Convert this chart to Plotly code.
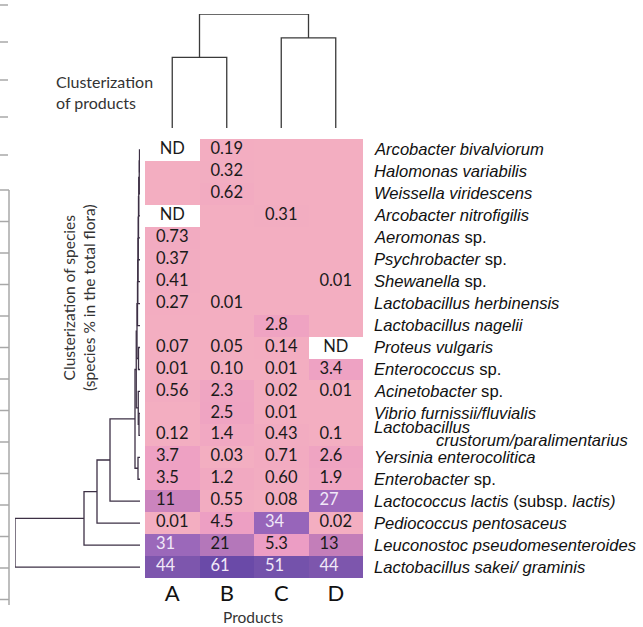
import plotly.graph_objects as go

# ---------------- data ----------------
products = ["A", "B", "C", "D"]
species = [
    "<i>Arcobacter bivalviorum</i>",
    "<i>Halomonas variabilis</i>",
    "<i>Weissella viridescens</i>",
    "<i>Arcobacter nitrofigilis</i>",
    "<i>Aeromonas</i> sp.",
    "<i>Psychrobacter</i> sp.",
    "<i>Shewanella</i> sp.",
    "<i>Lactobacillus herbinensis</i>",
    "<i>Lactobacillus nagelii</i>",
    "<i>Proteus vulgaris</i>",
    "<i>Enterococcus</i> sp.",
    "<i>Acinetobacter</i> sp.",
    "<i>Vibrio furnissii/fluvialis</i>",
    "<i>Lactobacillus</i>|<i>crustorum/paralimentarius</i>",
    "<i>Yersinia enterocolitica</i>",
    "<i>Enterobacter</i> sp.",
    "<i>Lactococcus lactis</i> (subsp. <i>lactis)</i>",
    "<i>Pediococcus pentosaceus</i>",
    "<i>Leuconostoc pseudomesenteroides</i>",
    "<i>Lactobacillus sakei/ graminis</i>",
]
col_A = ["ND", "", "", "ND", "0.73", "0.37", "0.41", "0.27", "", "0.07",
         "0.01", "0.56", "", "0.12", "3.7", "3.5", "11", "0.01", "31", "44"]
col_B = ["0.19", "0.32", "0.62", "", "", "", "", "0.01", "", "0.05",
         "0.10", "2.3", "2.5", "1.4", "0.03", "1.2", "0.55", "4.5", "21", "61"]
col_C = ["", "", "", "0.31", "", "", "", "", "2.8", "0.14",
         "0.01", "0.02", "0.01", "0.43", "0.71", "0.60", "0.08", "34", "5.3", "51"]
col_D = ["", "", "", "", "", "", "0.01", "", "", "ND",
         "3.4", "0.01", "", "0.1", "2.6", "1.9", "27", "0.02", "13", "44"]
columns = [col_A, col_B, col_C, col_D]

# dendrogram structure: (child, child, height); ids >= n_leaves refer to earlier merges
product_merges = [(0, 1, 0.62), (2, 3, 0.79), (4, 5, 1.0)]
species_merges = [
    (0, 1, 0.004), (20, 2, 0.006), (21, 3, 0.010), (22, 4, 0.012), (23, 5, 0.014),
    (24, 6, 0.016), (25, 7, 0.018), (26, 8, 0.020), (9, 10, 0.012), (27, 28, 0.024),
    (12, 13, 0.008), (11, 30, 0.014), (29, 31, 0.030), (14, 15, 0.016), (32, 33, 0.040),
    (34, 16, 0.24), (35, 17, 0.344), (36, 18, 0.448), (37, 19, 1.0),
]

# ---------------- helpers ----------------
W, H = 643, 627


def px_x(p):
    return p / W


def px_y(p):
    return 1 - p / H


def to_num(s):
    if s == "ND":
        return None
    if s == "":
        return 0.0
    return float(s)


def dendro(n, merges):
    pos = {i: float(i) for i in range(n)}
    hgt = {i: 0.0 for i in range(n)}
    P, Hh = [], []
    for k, (a, b, h) in enumerate(merges):
        P += [pos[a], pos[a], pos[b], pos[b], None]
        Hh += [hgt[a], h, h, hgt[b], None]
        pos[n + k] = (pos[a] + pos[b]) / 2
        hgt[n + k] = h
    return P, Hh


n_rows = len(species)
z = [[to_num(columns[c][r]) for c in range(4)] for r in range(n_rows)]

colorscale = [
    [0.0, "#F3AEC1"], [0.04, "#EFA4C2"], [0.087, "#EC9DC4"], [0.18, "#CB84BE"],
    [0.213, "#C37EB9"], [0.344, "#B477BA"], [0.44, "#9E68BA"], [0.51, "#9B68BA"],
    [0.557, "#9765BA"], [0.72, "#7D56AD"], [0.836, "#7452AB"], [1.0, "#6A4AA8"],
]

fig = go.Figure()
fig.add_trace(go.Heatmap(
    z=z, x=list(range(4)), y=list(range(n_rows)), colorscale=colorscale,
    zmin=0, zmax=61, showscale=False, hoverinfo="skip",
))

# value labels (left aligned in cells); ND centred
vx, vy, vt, vc = [], [], [], []
nx, ny, nt = [], [], []
for c in range(4):
    for r in range(n_rows):
        s = columns[c][r]
        if s == "":
            continue
        if s == "ND":
            nx.append(c); ny.append(r); nt.append(s)
        else:
            vx.append(c - 0.5 + 0.2); vy.append(r); vt.append(s)
            vc.append("#F1E8F8" if float(s) >= 25 else "#1A1A1A")
fig.add_trace(go.Scatter(
    x=vx, y=vy, text=vt, mode="text", textposition="middle right",
    textfont=dict(family="Lato", size=16.5, color=vc), hoverinfo="skip", showlegend=False,
))
fig.add_trace(go.Scatter(
    x=nx, y=ny, text=nt, mode="text", textposition="middle center",
    textfont=dict(family="Lato", size=16.5, color="#1A1A1A"), hoverinfo="skip", showlegend=False,
))

# column dendrogram
cx, cy = dendro(4, product_merges)
fig.add_trace(go.Scatter(x=cx, y=cy, mode="lines", xaxis="x2", yaxis="y2",
                         line=dict(color="#3A3A3A", width=1.3), hoverinfo="skip", showlegend=False))
# row dendrogram
ry, rx = dendro(n_rows, species_merges)
fig.add_trace(go.Scatter(x=rx, y=ry, mode="lines", xaxis="x3", yaxis="y",
                         line=dict(color="#3D3045", width=1.3), hoverinfo="skip", showlegend=False))

# species labels
LF = dict(family="Liberation Sans, Arial", size=16.6, color="#111")
annotations = []
for r, name in enumerate(species):
    if "|" in name:
        l1, l2 = name.split("|")
        annotations.append(dict(x=1 + 9 / 218, y=r, xref="x domain", yref="y", text=l1,
                                showarrow=False, xanchor="left", yanchor="middle", yshift=8,
                                font=LF))
        annotations.append(dict(x=1 + 71 / 218, y=r, xref="x domain", yref="y", text=l2,
                                showarrow=False, xanchor="left", yanchor="middle", yshift=-5,
                                font=LF))
    else:
        annotations.append(dict(x=1 + 9 / 218, y=r, xref="x domain", yref="y", text=name,
                                showarrow=False, xanchor="left", yanchor="middle", font=LF))

annotations += [
    dict(x=px_x(54), y=px_y(92), xref="paper", yref="paper", xanchor="left", yanchor="middle",
         text="Clusterization<br>of products", align="left", showarrow=False,
         font=dict(family="Lato", size=16, color="#333")),
    dict(x=px_x(79), y=px_y(298), xref="paper", yref="paper", xanchor="center", yanchor="middle",
         text="Clusterization of species<br>(species % in the total flora)", textangle=-90,
         showarrow=False, font=dict(family="Lato", size=15.5, color="#333")),
    dict(x=px_x(253), y=px_y(617), xref="paper", yref="paper", xanchor="center", yanchor="middle",
         text="Products", showarrow=False, font=dict(family="Lato", size=15.5, color="#333")),
]

# left-edge remnant marks
shapes = []
for yy in [5, 42, 80, 117, 155]:
    shapes.append(dict(type="line", xref="paper", yref="paper", x0=0, x1=px_x(8),
                       y0=px_y(yy), y1=px_y(yy), line=dict(color="#A8A8A8", width=1.5)))
shapes.append(dict(type="line", xref="paper", yref="paper", x0=px_x(9), x1=px_x(9),
                   y0=px_y(190), y1=px_y(605), line=dict(color="#A8A8A8", width=1.5)))
yy = 190
while yy <= 605:
    shapes.append(dict(type="line", xref="paper", yref="paper", x0=0, x1=px_x(9),
                       y0=px_y(yy), y1=px_y(yy), line=dict(color="#A8A8A8", width=1.5)))
    yy += 31.5

fig.update_layout(
    width=W, height=H, margin=dict(l=0, r=0, t=0, b=0),
    paper_bgcolor="white", plot_bgcolor="white", showlegend=False,
    xaxis=dict(domain=[px_x(145), px_x(363)], range=[-0.5, 3.5], anchor="y",
               tickvals=list(range(4)), ticktext=products, ticks="", showgrid=False,
               zeroline=False, showline=False, tickfont=dict(family="Lato", size=22, color="#111")),
    yaxis=dict(domain=[px_y(578), px_y(139)], range=[n_rows - 0.5, -0.5], anchor="x",
               showticklabels=False, showgrid=False, zeroline=False, ticks=""),
    xaxis2=dict(domain=[px_x(145), px_x(363)], range=[-0.5, 3.5], anchor="y2", visible=False),
    yaxis2=dict(domain=[px_y(128), px_y(14)], range=[0, 1], anchor="x2", visible=False),
    xaxis3=dict(domain=[px_x(15), px_x(140)], range=[1, 0], anchor="y", visible=False),
    annotations=annotations, shapes=shapes,
)

fig.write_html("out.html", config={"displayModeBar": False},
               post_script="document.body.style.margin='0';document.body.style.overflow='hidden';")
